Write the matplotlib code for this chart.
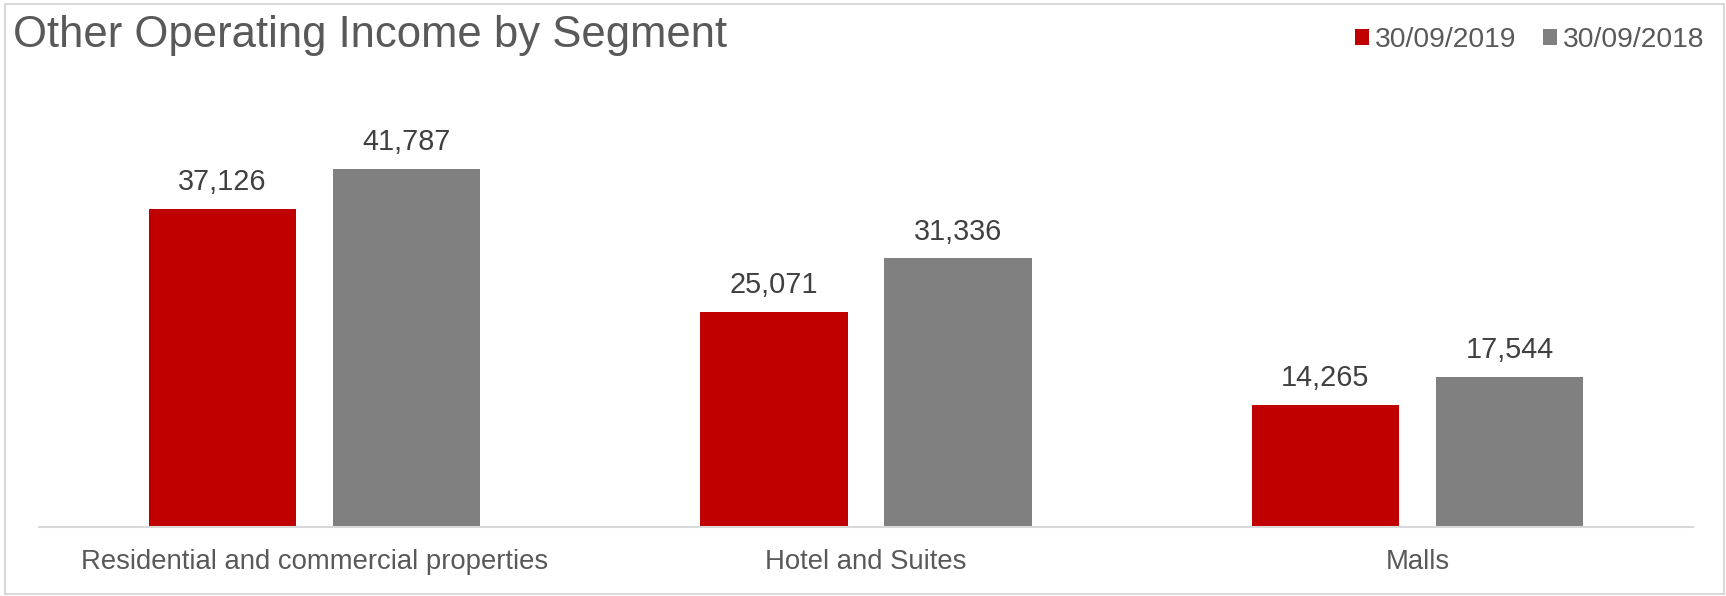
import matplotlib.pyplot as plt
import numpy as np
from matplotlib.patches import Rectangle

categories = ["Residential and commercial properties", "Hotel and Suites", "Malls"]
series_names = ["30/09/2019", "30/09/2018"]
values_2019 = [37126, 25071, 14265]
values_2018 = [41787, 31336, 17544]

red = "#C00000"
gray = "#808080"
W, H = 1726, 596

plt.rcParams['font.family'] = ['Liberation Sans', 'DejaVu Sans']

fig = plt.figure(figsize=(W / 100, H / 100), dpi=100)
# axes placed in pixel terms of the reference
left, right, base, top = 39, 1693, 527, 141
ax = fig.add_axes([left / W, 1 - base / H, (right - left) / W, (base - top) / H])

x = np.arange(len(categories))
bw = 0.267
off = 0.167
b1 = ax.bar(x - off, values_2019, bw, color=red, label=series_names[0])
b2 = ax.bar(x + off, values_2018, bw, color=gray, label=series_names[1])

for bars in (b1, b2):
    for r in bars:
        ax.annotate(f"{int(r.get_height()):,}", (r.get_x() + r.get_width() / 2, r.get_height()),
                    xytext=(0, 9), textcoords="offset points", ha="center", va="bottom",
                    fontsize=20.8, color="#404040")

ax.set_xlim(-0.5, len(categories) - 0.5)
ax.set_ylim(0, 45000)
ax.set_yticks([])
ax.set_xticks(x)
ax.set_xticklabels(categories, fontsize=19.8, color="#595959")
ax.tick_params(axis="x", length=0, pad=16)
for s in ["top", "right", "left"]:
    ax.spines[s].set_visible(False)
ax.spines["bottom"].set_color("#D9D9D9")
ax.spines["bottom"].set_linewidth(1.5)

fig.text(13 / W, 1 - 36 / H, "Other Operating Income by Segment", fontsize=31.4,
         color="#595959", va="center", ha="left")

fig.legend(handles=[b1, b2], loc="center right", bbox_to_anchor=(1704 / W, 1 - 40 / H),
           ncol=2, frameon=False, fontsize=20.3, handlelength=0.5, handleheight=0.5,
           handletextpad=0.2, columnspacing=0.95, labelcolor="#595959",
           borderpad=0, borderaxespad=0)

fig.patches.append(Rectangle((5 / W, 2 / H), 1 - 7 / W, 1 - 6 / H, transform=fig.transFigure,
                             fill=False, edgecolor="#D9D9D9", linewidth=1.5))

fig.savefig("out.png", dpi=100)
